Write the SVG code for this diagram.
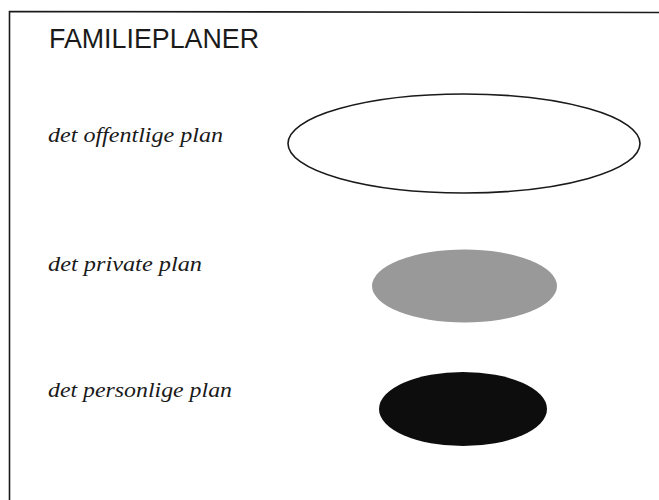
<svg xmlns="http://www.w3.org/2000/svg" width="659" height="500" viewBox="0 0 659 500">
  <style>
    .frame { fill: none; stroke: #1a1a1a; stroke-width: 1.6; }
    .title { font-family: "Liberation Sans", Arial, sans-serif; font-size: 28px; fill: #1a1a1a; }
    .label { font-family: "Liberation Serif", "Times New Roman", serif; font-style: italic; font-size: 21px; fill: #1a1a1a; }
  </style>
  <rect width="659" height="500" fill="#ffffff"/>
  <path class="frame" d="M9.5,500 L9.5,11.5 L659,12.5"/>
  <text class="title" x="49" y="48" textLength="210" lengthAdjust="spacingAndGlyphs">FAMILIEPLANER</text>
  <g id="offentlige">
    <text class="label" x="48" y="142" textLength="175" lengthAdjust="spacingAndGlyphs">det offentlige plan</text>
    <ellipse cx="464" cy="143.5" rx="176" ry="49.5" fill="#ffffff" stroke="#1a1a1a" stroke-width="1.6"/>
  </g>
  <g id="private">
    <text class="label" x="48" y="271" textLength="154" lengthAdjust="spacingAndGlyphs">det private plan</text>
    <ellipse cx="464.5" cy="286" rx="92.5" ry="36.5" fill="#999999"/>
  </g>
  <g id="personlige">
    <text class="label" x="48" y="397" textLength="184" lengthAdjust="spacingAndGlyphs">det personlige plan</text>
    <ellipse cx="463" cy="409" rx="84" ry="37" fill="#0d0d0d"/>
  </g>
</svg>
